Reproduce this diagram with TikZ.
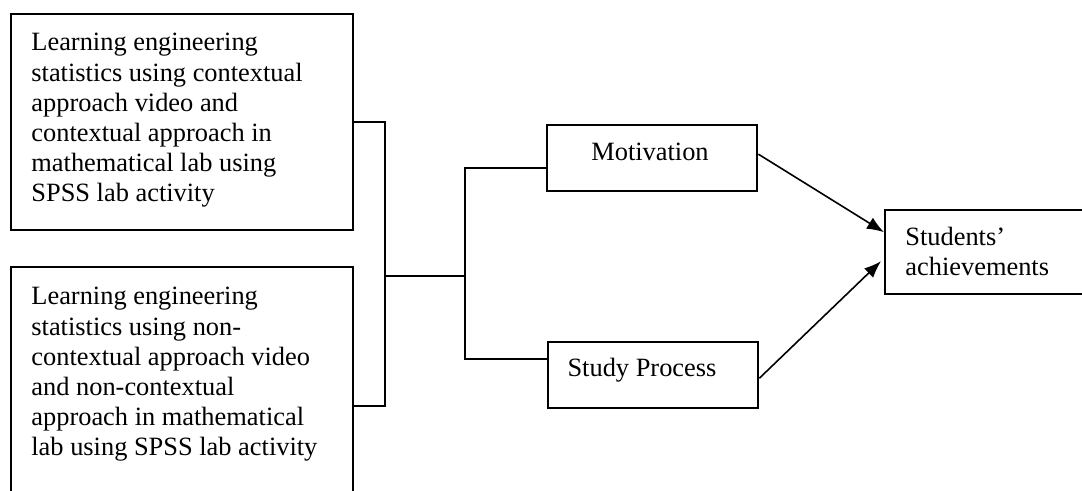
\documentclass[tikz,border=0pt]{standalone}
\usepackage{fontspec}
\setmainfont{Liberation Serif}
\usetikzlibrary{arrows.meta,calc}
\begin{document}
\begin{tikzpicture}[x=0.5pt,y=-0.5pt,
  box/.style={draw,line width=1.2pt,inner sep=0pt,anchor=north west},
  txt/.style={inner sep=0pt,align=left,font=\fontsize{13.2}{15.1}\selectfont},
  conn/.style={line width=0.8pt},
  arr/.style={line width=0.8pt,-{Latex[length=8.5pt,width=6.5pt]}}]
\useasboundingbox[fill=white] (0,0) rectangle (1082,491);
% boxes
\node[box,minimum width=171pt,minimum height=108pt] (b1) at (10,13) {};
\node[box,minimum width=171pt,minimum height=139pt] (b2) at (10,266) {};
\node[box,minimum width=105pt,minimum height=33pt] (mot) at (546,124) {};
\node[box,minimum width=105pt,minimum height=33pt] (sp) at (547,341) {};
\node[box,minimum width=105pt,minimum height=42pt] (stu) at (884,209) {};
% texts
\node[txt,anchor=north west] (t1) at (31,33) {Learning engineering\\statistics using contextual\\approach video and\\contextual approach in\\mathematical lab using\\SPSS lab activity};
\node[txt,anchor=north west] (t2) at (31,287) {Learning engineering\\statistics using non-\\contextual approach video\\and non-contextual\\approach in mathematical\\lab using SPSS lab activity};
\node[txt,anchor=base] (tm) at (650,161) {Motivation};
\node[txt,anchor=base] (ts) at (642,377) {Study Process};
\node[txt,anchor=north west] (tst) at (905,227) {Students’\\achievements};
% connectors
\coordinate (j1) at (385,276);
\coordinate (j2) at (465,276);
\draw[conn] (b1.east) -| (j1);
\draw[conn] (b2.east) -| (j1);
\draw[conn] (j1) -- (j2);
\draw[conn] (j2) |- ($(mot.west)+(0,10)$);
\draw[conn] (j2) |- ($(sp.west)+(0,-16)$);
\draw[arr] ($(mot.east)+(0,-4)$) -- ($(stu.west)+(0,-20)$);
\draw[arr] ($(sp.east)+(0,3)$) -- ($(stu.west)+(-3,9)$);
\end{tikzpicture}
\end{document}
